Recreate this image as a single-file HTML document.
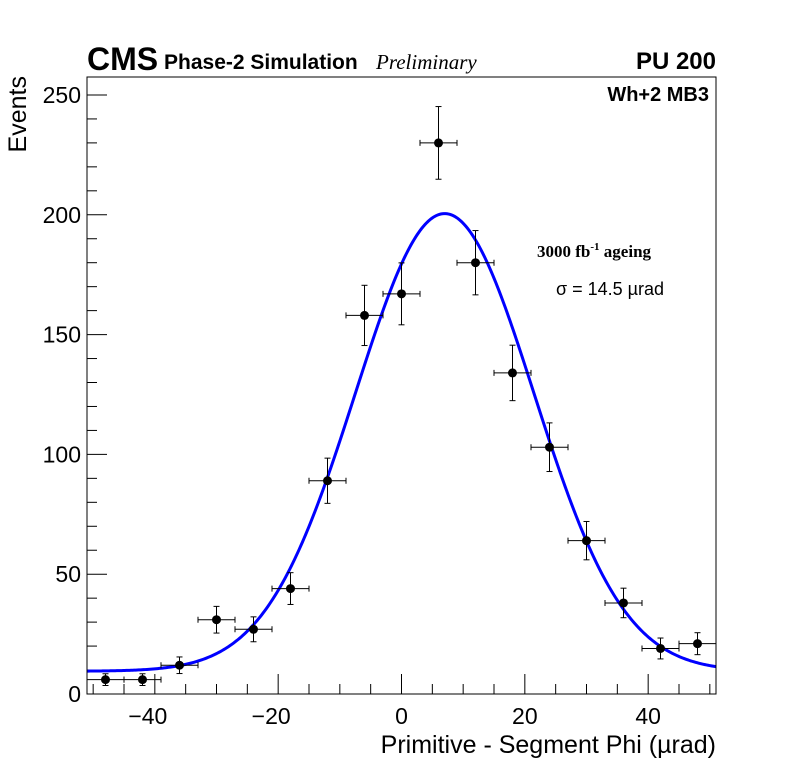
<!DOCTYPE html>
<html><head><meta charset="utf-8"><style>
html,body{margin:0;padding:0;background:#fff;}
svg{display:block;font-family:"Liberation Sans",sans-serif;}
</style></head><body>
<svg id="chart" width="796" height="772" viewBox="0 0 796 772">
<rect x="0" y="0" width="796" height="772" fill="#fff"/>
<g id="axes"></g>
<g id="fit"></g>
<g id="pts"></g>
<rect x="87" y="77" width="629" height="617" fill="none" stroke="#000" stroke-width="1"/>
<text x="87" y="70" font-size="32" font-weight="bold">CMS</text>
<text x="164" y="69" font-size="21" font-weight="bold">Phase-2 Simulation</text>
<text x="376" y="69" font-size="21" font-style="italic" font-family="Liberation Serif, serif">Preliminary</text>
<text x="716" y="69" font-size="24" font-weight="bold" text-anchor="end">PU 200</text>
<text x="709" y="101" font-size="20" font-weight="bold" text-anchor="end">Wh+2 MB3</text>
<text x="537" y="257" font-size="17" font-weight="bold" font-family="Liberation Serif, serif">3000 fb<tspan dy="-7" font-size="11">-1</tspan><tspan dy="7"> ageing</tspan></text>
<text x="556" y="295" font-size="18">σ = 14.5 µrad</text>
<text x="716" y="753" font-size="25" text-anchor="end">Primitive - Segment Phi (µrad)</text>
<text x="0" y="0" font-size="25" text-anchor="end" transform="translate(26,76) rotate(-90)">Events</text>
</svg>
<script>
const binCenters=[-48,-42,-36,-30,-24,-18,-12,-6,0,6,12,18,24,30,36,42,48];
const counts=[6,6,12,31,27,44,89,158,167,230,180,134,103,64,38,19,21];
const fitParams=[191,7,14.5,9.5]; // amplitude, mean, sigma, constant
const xTicks=[-40,-20,0,20,40];
const yTicks=[0,50,100,150,200,250];
const binHalfWidth=3;
const NS='http://www.w3.org/2000/svg';
const X0=87,X1=716,Y0=694,Y1=77,xmin=-51,xmax=51,ymin=0,ymax=257.5;
const sx=v=>X0+(v-xmin)/(xmax-xmin)*(X1-X0);
const sy=v=>Y0-(v-ymin)/(ymax-ymin)*(Y0-Y1);
function mk(tag,attrs,parent){const e=document.createElementNS(NS,tag);for(const k in attrs)e.setAttribute(k,attrs[k]);parent.appendChild(e);return e;}
const axes=document.getElementById('axes');
for(let v=-50;v<=50;v+=5){
  const major=v%20===0;
  const t=mk('line',{x1:sx(v),x2:sx(v),y1:Y0,y2:Y0-(major?20:10),stroke:'#000','stroke-width':1},axes);
  
  
}
for(let v=0;v<=250;v+=10){
  const major=v%50===0;
  const t=mk('line',{x1:X0,x2:X0+(major?20:10),y1:sy(v),y2:sy(v),stroke:'#000','stroke-width':1},axes);
  
  
}
xTicks.forEach(v=>{
  const t=mk('text',{x:sx(v)-(v<0?7:0),y:724,'font-size':23,'text-anchor':'middle'},axes);
  t.textContent=v<0?'\u2212'+Math.abs(v):String(v);
  
  
});
yTicks.forEach(v=>{
  const t=mk('text',{x:81,y:sy(v)+8,'font-size':23,'text-anchor':'end'},axes);
  t.textContent=String(v);
  
  
});
const fitG=document.getElementById('fit');
let d='';
for(let i=0;i<=400;i++){
  const x=xmin+(xmax-xmin)*i/400;
  const y=fitParams[3]+fitParams[0]*Math.exp(-Math.pow(x-fitParams[1],2)/(2*fitParams[2]*fitParams[2]));
  d+=(i?'L':'M')+sx(x).toFixed(2)+' '+sy(y).toFixed(2);
}
const fp=mk('path',{d:d,fill:'none',stroke:'#0000ff','stroke-width':3},fitG);


const pts=document.getElementById('pts');
binCenters.forEach((c,i)=>{
  const n=counts[i],e=Math.sqrt(n);
  const g=mk('g',{},pts);
  
  
  const cx=sx(c),cy=sy(n);
  mk('line',{x1:sx(c-binHalfWidth),x2:sx(c+binHalfWidth),y1:cy,y2:cy,stroke:'#000','stroke-width':1},g);
  mk('line',{x1:cx,x2:cx,y1:sy(n-e),y2:sy(n+e),stroke:'#000','stroke-width':1},g);
  mk('line',{x1:sx(c-binHalfWidth),x2:sx(c-binHalfWidth),y1:cy-3,y2:cy+3,stroke:'#000'},g);
  mk('line',{x1:sx(c+binHalfWidth),x2:sx(c+binHalfWidth),y1:cy-3,y2:cy+3,stroke:'#000'},g);
  mk('line',{x1:cx-3,x2:cx+3,y1:sy(n-e),y2:sy(n-e),stroke:'#000'},g);
  mk('line',{x1:cx-3,x2:cx+3,y1:sy(n+e),y2:sy(n+e),stroke:'#000'},g);
  mk('circle',{cx:cx,cy:cy,r:4.5,fill:'#000'},g);
});
</script>
</body></html>
